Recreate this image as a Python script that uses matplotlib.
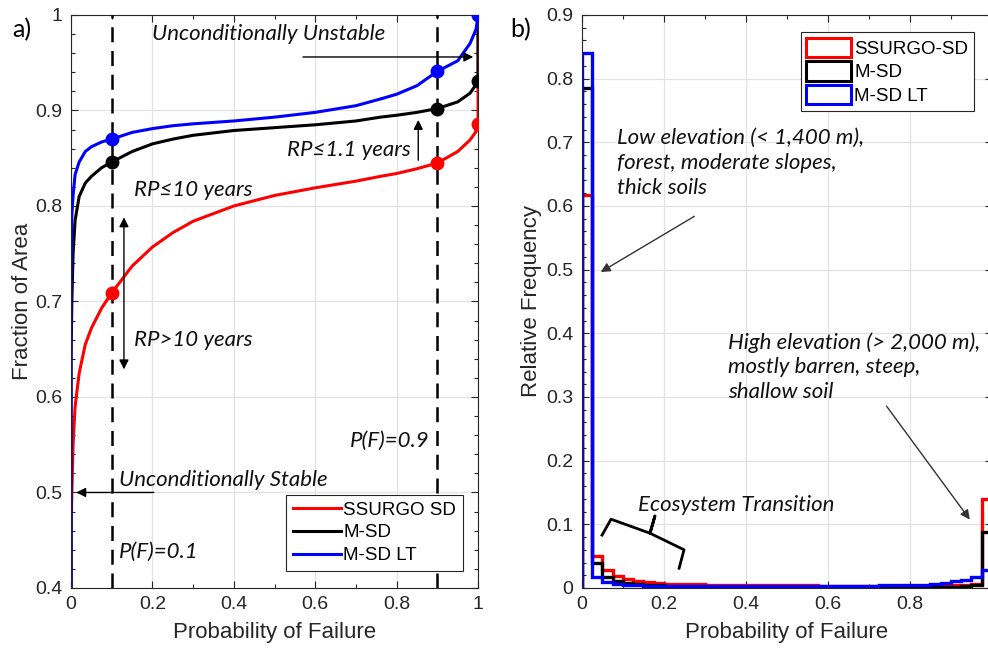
import numpy as np
import matplotlib
matplotlib.use("Agg")
import matplotlib.pyplot as plt
from matplotlib.patches import Patch
from matplotlib.ticker import MultipleLocator

# ---- data: cumulative fraction of area vs probability of failure (panel a)
pf = [0, 0, 0.002, 0.005, 0.01, 0.02, 0.035, 0.05, 0.075, 0.1, 0.15, 0.2, 0.25,
      0.3, 0.4, 0.5, 0.6, 0.7, 0.76, 0.8, 0.85, 0.9, 0.95, 0.98, 0.995, 1.0, 1.0]
cdf_ssurgo = [0.40, 0.46, 0.50, 0.55, 0.59, 0.625, 0.655, 0.672, 0.693, 0.709, 0.737,
              0.757, 0.772, 0.784, 0.800, 0.811, 0.819, 0.826, 0.831, 0.834, 0.839,
              0.845, 0.857, 0.869, 0.878, 0.886, 1.0]
cdf_msd = [0.40, 0.64, 0.70, 0.75, 0.785, 0.810, 0.824, 0.831, 0.840, 0.846, 0.857,
           0.865, 0.870, 0.874, 0.879, 0.882, 0.885, 0.889, 0.893, 0.895, 0.898,
           0.902, 0.909, 0.918, 0.927, 0.931, 1.0]
cdf_msdlt = [0.40, 0.73, 0.79, 0.811, 0.833, 0.846, 0.857, 0.862, 0.867, 0.870, 0.877,
             0.881, 0.884, 0.886, 0.889, 0.893, 0.898, 0.905, 0.912, 0.917, 0.926,
             0.941, 0.952, 0.970, 0.985, 1.0, 1.0]
mark_pf = [0.1, 0.9, 1.0]
mark_ssurgo = [0.709, 0.845, 0.886]
mark_msd = [0.846, 0.902, 0.931]
mark_msdlt = [0.870, 0.941, 1.0]
labels_a = ["SSURGO SD", "M-SD", "M-SD LT"]

# ---- data: relative frequency histograms (panel b), 40 bins on [0, 1]
bin_edges = np.linspace(0, 1, 41)
freq_ssurgo = [0.617, 0.050, 0.028, 0.019, 0.014, 0.011, 0.009, 0.008, 0.007, 0.0065,
               0.0063, 0.006, 0.005, 0.005, 0.005, 0.005, 0.005, 0.005, 0.005, 0.004,
               0.004, 0.004, 0.004, 0.003, 0.003, 0.003, 0.003, 0.003, 0.003, 0.003,
               0.003, 0.003, 0.003, 0.003, 0.004, 0.004, 0.004, 0.005, 0.007, 0.139]
freq_msd = [0.785, 0.039, 0.017, 0.011, 0.008, 0.006, 0.005, 0.004, 0.003, 0.003,
            0.003, 0.003, 0.002, 0.002, 0.001, 0.001, 0.001, 0.001, 0.001, 0.001,
            0.001, 0.001, 0.001, 0.001, 0.001, 0.001, 0.001, 0.001, 0.001, 0.001,
            0.001, 0.002, 0.002, 0.002, 0.002, 0.002, 0.002, 0.003, 0.005, 0.088]
freq_msdlt = [0.840, 0.017, 0.010, 0.007, 0.005, 0.004, 0.003, 0.003, 0.003, 0.003,
              0.003, 0.003, 0.003, 0.003, 0.003, 0.003, 0.003, 0.003, 0.003, 0.003,
              0.003, 0.003, 0.003, 0.003, 0.003, 0.003, 0.003, 0.003, 0.003, 0.004,
              0.004, 0.004, 0.004, 0.005, 0.006, 0.008, 0.0105, 0.0125, 0.017, 0.028]
labels_b = ["SSURGO-SD", "M-SD", "M-SD LT"]

colors = ["#ff0000", "#000000", "#0000ff"]
axcol = "#262626"
note_font = dict(family="Lato", style="italic", size=16, color="#111111")

plt.rcParams["font.family"] = ["Liberation Sans", "DejaVu Sans"]

fig = plt.figure(figsize=(9.88, 6.56), dpi=100)
ax1 = fig.add_axes([0.0719, 0.1037, 0.412, 0.8735])
ax2 = fig.add_axes([0.589, 0.1037, 0.415, 0.8735])


def style_axes(ax):
    ax.grid(True, which="major", color="#e3e3e3", lw=0.9)
    ax.set_axisbelow(True)
    ax.tick_params(which="both", direction="in", top=True, right=True,
                   colors=axcol, labelsize=14, width=0.8, pad=6)
    ax.tick_params(which="major", length=5)
    ax.tick_params(which="minor", length=3)
    for s in ax.spines.values():
        s.set_color(axcol)
        s.set_linewidth(0.8)


# ---------------- panel a
for y, c in zip([cdf_ssurgo, cdf_msd, cdf_msdlt], colors):
    ax1.plot(pf, y, color=c, lw=2.2)
for y, c in zip([mark_ssurgo, mark_msd, mark_msdlt], colors):
    ax1.plot(mark_pf, y, "o", color=c, ms=9, zorder=5)
for xv in [0.1, 0.9]:
    ax1.axvline(xv, color="black", lw=1.8, ls=(0, (6, 3.5)), zorder=4)

ax1.set_xlim(0, 1)
ax1.set_ylim(0.4, 1)
ax1.set_xticks([0, 0.2, 0.4, 0.6, 0.8, 1.0])
ax1.set_xticklabels(["0", "0.2", "0.4", "0.6", "0.8", "1"])
ax1.set_yticks([0.4, 0.5, 0.6, 0.7, 0.8, 0.9, 1.0])
ax1.set_yticklabels(["0.4", "0.5", "0.6", "0.7", "0.8", "0.9", "1"])
ax1.xaxis.set_minor_locator(MultipleLocator(0.1))
ax1.yaxis.set_minor_locator(MultipleLocator(0.02))
style_axes(ax1)
ax1.set_xlabel("Probability of Failure", fontsize=16, color=axcol, labelpad=6)
ax1.set_ylabel("Fraction of Area", fontsize=16, color=axcol, labelpad=2)

handles_a = [plt.Line2D([], [], color=c, lw=2.2) for c in colors]
leg1 = ax1.legend(handles_a, labels_a, loc="lower right", bbox_to_anchor=(0.962, 0.03),
                  fontsize=13.5, frameon=True, fancybox=False, framealpha=1,
                  edgecolor=axcol, handlelength=2.6, handletextpad=0.1,
                  borderpad=0.35, labelspacing=0.3, borderaxespad=0)
leg1.get_frame().set_linewidth(0.8)

ax1.text(0.2, 0.98, "Unconditionally Unstable", va="center", **note_font)
ax1.annotate("", xy=(0.995, 0.956), xytext=(0.563, 0.956),
             arrowprops=dict(arrowstyle="-|>", color="black", lw=1, mutation_scale=14))
ax1.text(0.835, 0.859, "RP≤1.1 years", va="center", ha="right", **note_font)
ax1.annotate("", xy=(0.853, 0.893), xytext=(0.853, 0.845),
             arrowprops=dict(arrowstyle="-|>", color="black", lw=1, mutation_scale=14))
ax1.text(0.155, 0.817, "RP≤10 years", va="center", **note_font)
ax1.annotate("", xy=(0.13, 0.791), xytext=(0.13, 0.626),
             arrowprops=dict(arrowstyle="<|-|>", color="black", lw=1, mutation_scale=14))
ax1.text(0.155, 0.660, "RP>10 years", va="center", **note_font)
ax1.text(0.118, 0.513, "Unconditionally Stable", va="center", **note_font)
ax1.annotate("", xy=(0.006, 0.5), xytext=(0.21, 0.5),
             arrowprops=dict(arrowstyle="-|>", color="black", lw=1, mutation_scale=14))
ax1.text(0.88, 0.554, "P(F)=0.9", va="center", ha="right", **note_font)
ax1.text(0.118, 0.438, "P(F)=0.1", va="center", **note_font)

# ---------------- panel b
for f, c in zip([freq_ssurgo, freq_msd, freq_msdlt], colors):
    ax2.stairs(f, bin_edges, color=c, lw=2.4, baseline=0)

ax2.set_xlim(0, 1)
ax2.set_ylim(0, 0.9)
ax2.set_xticks([0, 0.2, 0.4, 0.6, 0.8, 1.0])
ax2.set_xticklabels(["0", "0.2", "0.4", "0.6", "0.8", ""])
ax2.set_yticks(np.arange(0, 0.91, 0.1))
ax2.set_yticklabels(["0", "0.1", "0.2", "0.3", "0.4", "0.5", "0.6", "0.7", "0.8", "0.9"])
ax2.xaxis.set_minor_locator(MultipleLocator(0.1))
ax2.yaxis.set_minor_locator(MultipleLocator(0.02))
style_axes(ax2)
ax2.set_xlabel("Probability of Failure", fontsize=16, color=axcol, labelpad=6)
ax2.set_ylabel("Relative Frequency", fontsize=16, color=axcol, labelpad=3)

handles_b = [Patch(facecolor="white", edgecolor=c, lw=2.2) for c in colors]
leg2 = ax2.legend(handles_b, labels_b, loc="upper right", bbox_to_anchor=(0.956, 0.97),
                  fontsize=13.5, frameon=True, fancybox=False, framealpha=1,
                  edgecolor=axcol, handlelength=2.4, handleheight=1.2,
                  handletextpad=0.15, borderpad=0.3, labelspacing=0.2, borderaxespad=0)
leg2.get_frame().set_linewidth(0.8)

ax2.text(0.085, 0.722, "Low elevation (< 1,400 m),\nforest, moderate slopes,\nthick soils",
         va="top", linespacing=1.3, **note_font)
ax2.annotate("", xy=(0.040, 0.494), xytext=(0.28, 0.586),
             arrowprops=dict(arrowstyle="-|>", color="#333333", lw=1, mutation_scale=14))
ax2.text(0.356, 0.402, "High elevation (> 2,000 m),\nmostly barren, steep,\nshallow soil",
         va="top", linespacing=1.3, **note_font)
ax2.annotate("", xy=(0.950, 0.104), xytext=(0.739, 0.289),
             arrowprops=dict(arrowstyle="-|>", color="#333333", lw=1, mutation_scale=14))
ax2.text(0.137, 0.130, "Ecosystem Transition", va="center", **note_font)
brace_x = [0.049, 0.071, 0.166, 0.178, 0.166, 0.249, 0.237]
brace_y = [0.083, 0.108, 0.086, 0.113, 0.086, 0.060, 0.031]
ax2.plot(brace_x, brace_y, color="black", lw=2, solid_joinstyle="round")

fig.text(0.012, 0.955, "a)", fontsize=18, family="Lato", va="center")
fig.text(0.516, 0.955, "b)", fontsize=18, family="Lato", va="center")

fig.savefig("out.png", dpi=100)
